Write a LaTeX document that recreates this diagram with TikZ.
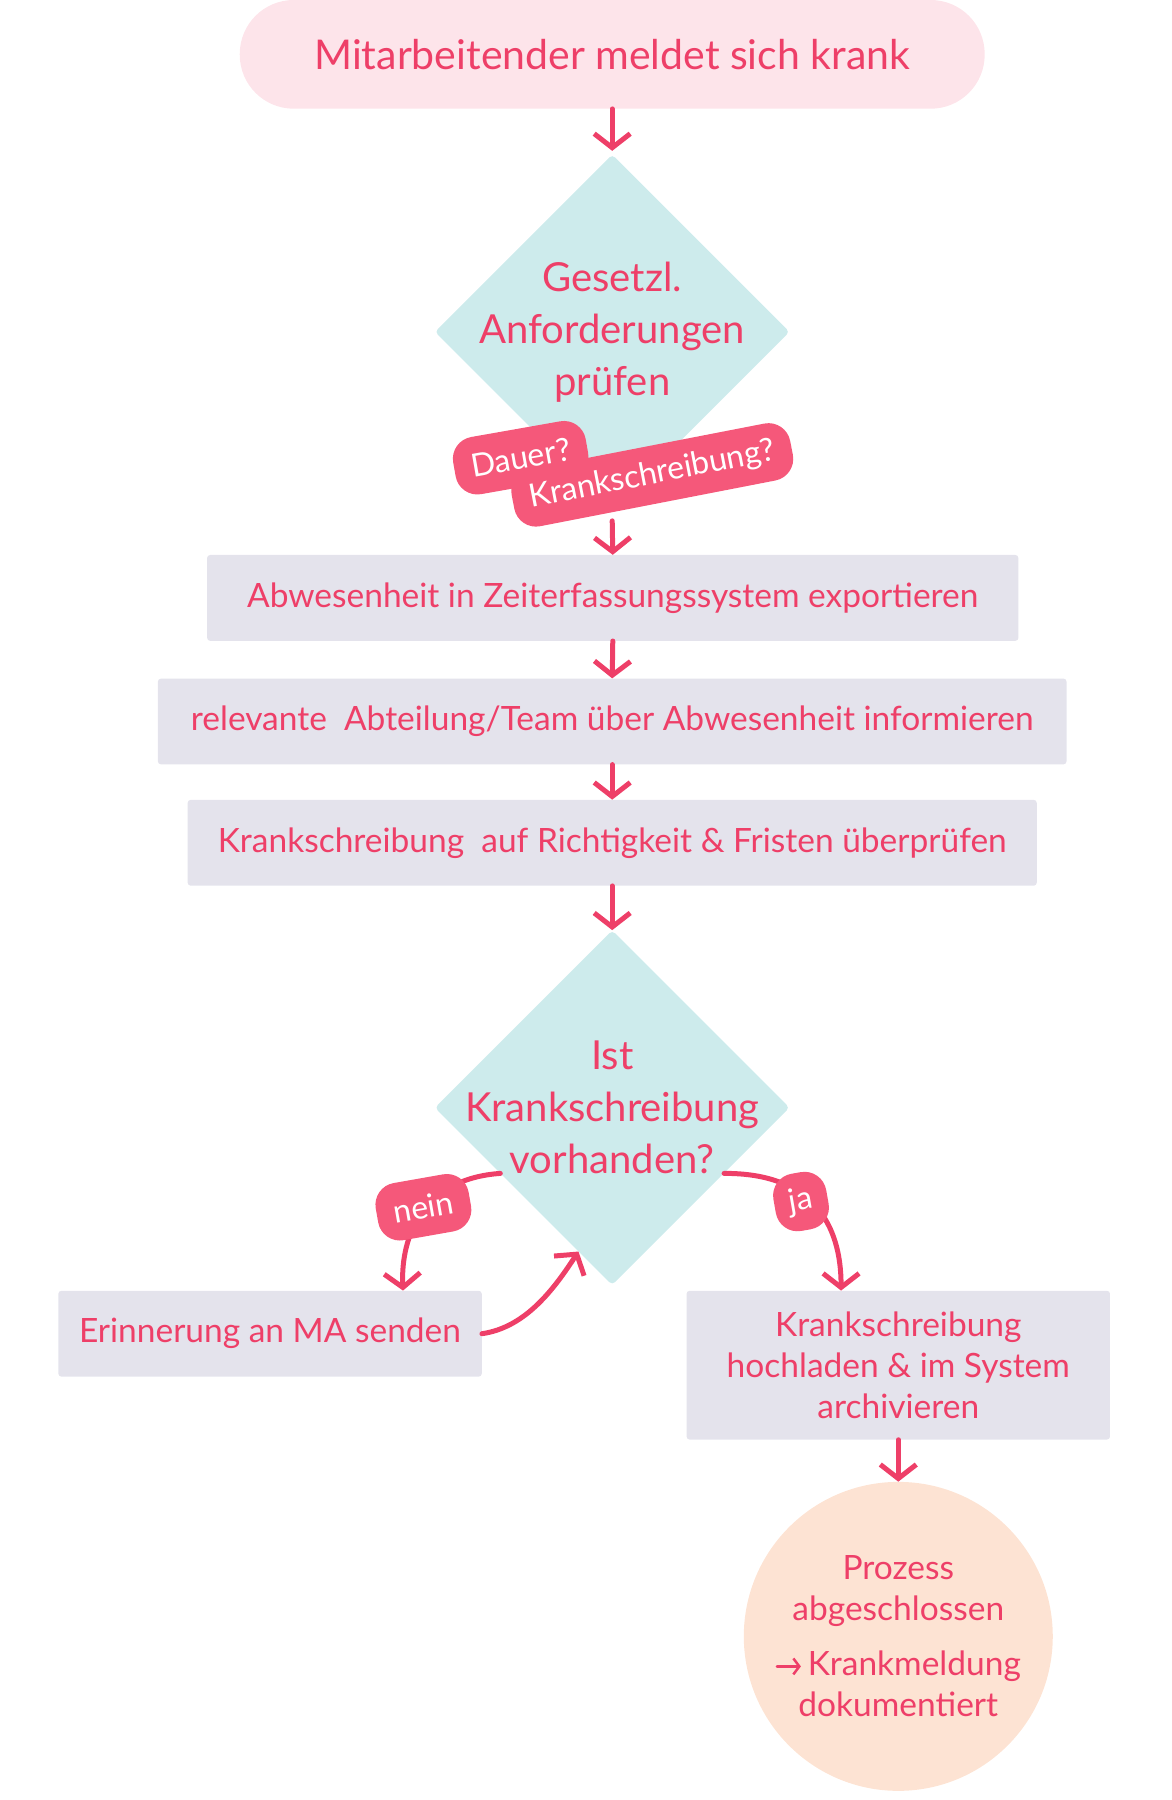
\documentclass[tikz,border=0pt]{standalone}
\usepackage{fontspec}
\setmainfont{Lato}
\usetikzlibrary{shapes.geometric,arrows.meta,calc}
\definecolor{ink}{HTML}{EE3F68}
\definecolor{pinkbg}{HTML}{FDE4EA}
\definecolor{teal}{HTML}{CDEBEC}
\definecolor{boxbg}{HTML}{E4E3EC}
\definecolor{tag}{HTML}{F5587A}
\definecolor{peach}{HTML}{FDE3D3}
\def\u{1.1445pt}
\tikzset{
 x=1.1445pt, y=-1.1445pt,
 arr/.style={draw=ink, line width=5pt, line cap=round, -{Straight Barb[length=14pt,width=36pt,line width=5pt]}},
 box/.style={rectangle, rounded corners=3pt, fill=boxbg, text=ink, font=\fontsize{33.5}{41}\selectfont, inner sep=0pt, align=center},
 dia/.style={diamond, fill=teal, minimum width=310*\u, minimum height=310*\u, inner sep=0pt, rounded corners=4pt},
 dtext/.style={text=ink, font=\fontsize{40}{52}\selectfont, align=center},
 tagst/.style={rectangle, rounded corners=22pt, fill=tag, text=white, font=\fontsize{32}{34}\selectfont, inner xsep=17pt, minimum height=58pt},
}
\begin{document}
\begin{tikzpicture}
\useasboundingbox (0,0) rectangle (1024,1573);
\node[rectangle, rounded corners=54pt, fill=pinkbg, text=ink, font=\fontsize{41}{46}\selectfont, minimum width=651*\u, minimum height=95*\u] (start) at (535,47.5) {Mitarbeitender meldet sich krank};
\node[dia] (d1) at (535,290) {};
\node[dtext] at (d1) {Gesetzl.\\Anforderungen\\prüfen};
\node[box, minimum width=709*\u, minimum height=75*\u] (b1) at (535.5,522.5) {Abwesenheit in Zeiterfassungssystem exportieren};
\node[box, minimum width=794*\u, minimum height=75*\u] (b2) at (535,630.5) {relevante\ \ Abteilung/Team über Abwesenheit informieren};
\node[box, minimum width=742*\u, minimum height=75*\u] (b3) at (535,736.5) {Krankschreibung\ \ auf Richtigkeit \& Fristen überprüfen};
\node[dia] (d2) at (535,968) {};
\node[dtext] at (d2) {Ist\\Krankschreibung\\vorhanden?};
\node[box, minimum width=370*\u, minimum height=75*\u] (rem) at (236,1165.5) {Erinnerung an MA senden};
\node[box, minimum width=370*\u, minimum height=130*\u] (up) at (785,1193) {Krankschreibung\\hochladen \& im System\\archivieren};
\node[circle, fill=peach, minimum size=270*\u, text=ink, font=\fontsize{33.5}{41}\selectfont, align=center, inner sep=0pt] (end) at (785,1430) {Prozess\\abgeschlossen\\[14pt]\tikz[baseline=-0.55ex]{\draw[ink,line width=2.5pt,line cap=round,-{Straight Barb[length=6pt,width=16pt,line width=2.5pt]}] (0pt,0pt)--(24pt,0pt);}\,Krankmeldung\\dokumentiert};

\draw[arr] (start.south) -- ($(d1.north)+(0,-3)$);
\draw[arr] ($(d1.south)+(0,10)$) -- (b1.north);
\draw[arr] (b1.south) -- (b2.north);
\draw[arr] (b2.south) -- (b3.north);
\draw[arr] (b3.south) -- (d2.north);
\draw[arr] (up.south) -- (end.north);

\coordinate (nstart) at ($(d2.west)!0.37!(d2.south)$);
\coordinate (nend) at ($(rem.north east)+(-69,0)$);
\draw[arr] (nstart) .. controls (370,1030) and (350,1080) .. (nend);
\coordinate (jstart) at ($(d2.east)!0.37!(d2.south)$);
\coordinate (jend) at ($(up.north)+(-50,0)$);
\draw[arr] (jstart) .. controls (710,1025) and (735,1070) .. (jend);
\coordinate (bend) at ($(d2.west)!0.81!(d2.south)$);
\draw[arr] (rem.east) .. controls (460,1160) and (485,1125) .. (bend);

\node[tagst, rotate=10] (t1) at (455,400) {Dauer?};
\node[tagst, rotate=11] (t2) at (570,415) {Krankschreibung?};
\node[tagst, rotate=10] (tn) at (370,1055) {nein};
\node[tagst, rotate=10, inner xsep=15pt] (tj) at (700,1050) {ja};
\end{tikzpicture}
\end{document}
